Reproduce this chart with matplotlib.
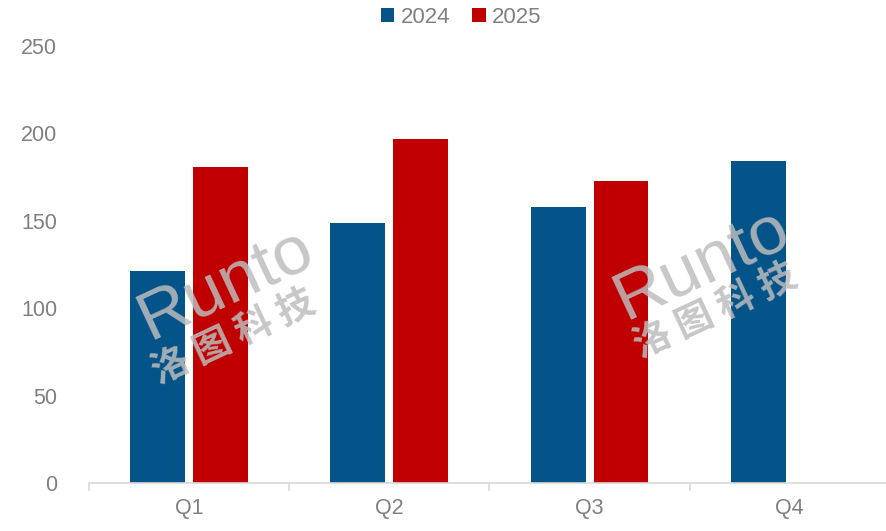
import numpy as np
import matplotlib
matplotlib.use("Agg")
import matplotlib.pyplot as plt
from matplotlib.ticker import FixedLocator

plt.rcParams["font.family"] = ["Liberation Sans", "Noto Sans CJK SC", "DejaVu Sans"]

quarters = ["Q1", "Q2", "Q3", "Q4"]
v2024 = [121, 149, 158, 184]
v2025 = [181, 197, 173, np.nan]

BLUE, RED, GREY = "#04548A", "#C00000", "#808080"

fig = plt.figure(figsize=(8.87, 5.31), dpi=100)
ax = fig.add_axes([0.1003, 0.0904, 0.9030, 0.8230])

x = np.arange(len(quarters))
w = 0.274
ax.bar(x - 0.02 - w / 2, v2024, w, color=BLUE, label="2024", zorder=2)
ax.bar(x + 0.02 + w / 2, v2025, w, color=RED, label="2025", zorder=2)

ax.set_ylim(0, 250)
ax.set_xlim(-0.5, 3.5)
ax.set_yticks(range(0, 251, 50))
ax.set_xticks(x)
ax.set_xticklabels(quarters)
ax.xaxis.set_minor_locator(FixedLocator(np.arange(-0.5, 3.6, 1)))
ax.tick_params(axis="x", which="major", length=0, pad=11, labelsize=15.5, labelcolor=GREY)
ax.tick_params(axis="x", which="minor", length=6, width=1.2, color="#d9d9d9")
ax.tick_params(axis="y", length=0, pad=23, labelsize=15.5, labelcolor=GREY)
for s in ["top", "right", "left"]:
    ax.spines[s].set_visible(False)
ax.spines["bottom"].set_color("#d9d9d9")
ax.spines["bottom"].set_linewidth(1.2)

# watermark
for (rx, ry), (cx, cy) in [((0.170, 0.455), (0.180, 0.335)),
                           ((0.765, 0.500), (0.782, 0.395))]:
    ax.text(rx, ry, "Runto", transform=ax.transAxes, fontsize=50,
            color="#bdbdbd", alpha=0.85, rotation=25, ha="center", va="center",
            zorder=3)
    ax.text(cx, cy, "洛 图 科 技", transform=ax.transAxes, fontsize=27,
            color="#bdbdbd", alpha=0.85, rotation=25, ha="center", va="center",
            fontweight="bold", family=["Noto Sans CJK SC", "DejaVu Sans"], zorder=3)

fig.legend(loc="upper center", bbox_to_anchor=(0.52, 1.025), ncol=2, frameon=False,
           fontsize=16, labelcolor=GREY, handlelength=0.6, handleheight=0.6,
           handletextpad=0.3, columnspacing=1.0)

fig.savefig("out.png", dpi=100)
